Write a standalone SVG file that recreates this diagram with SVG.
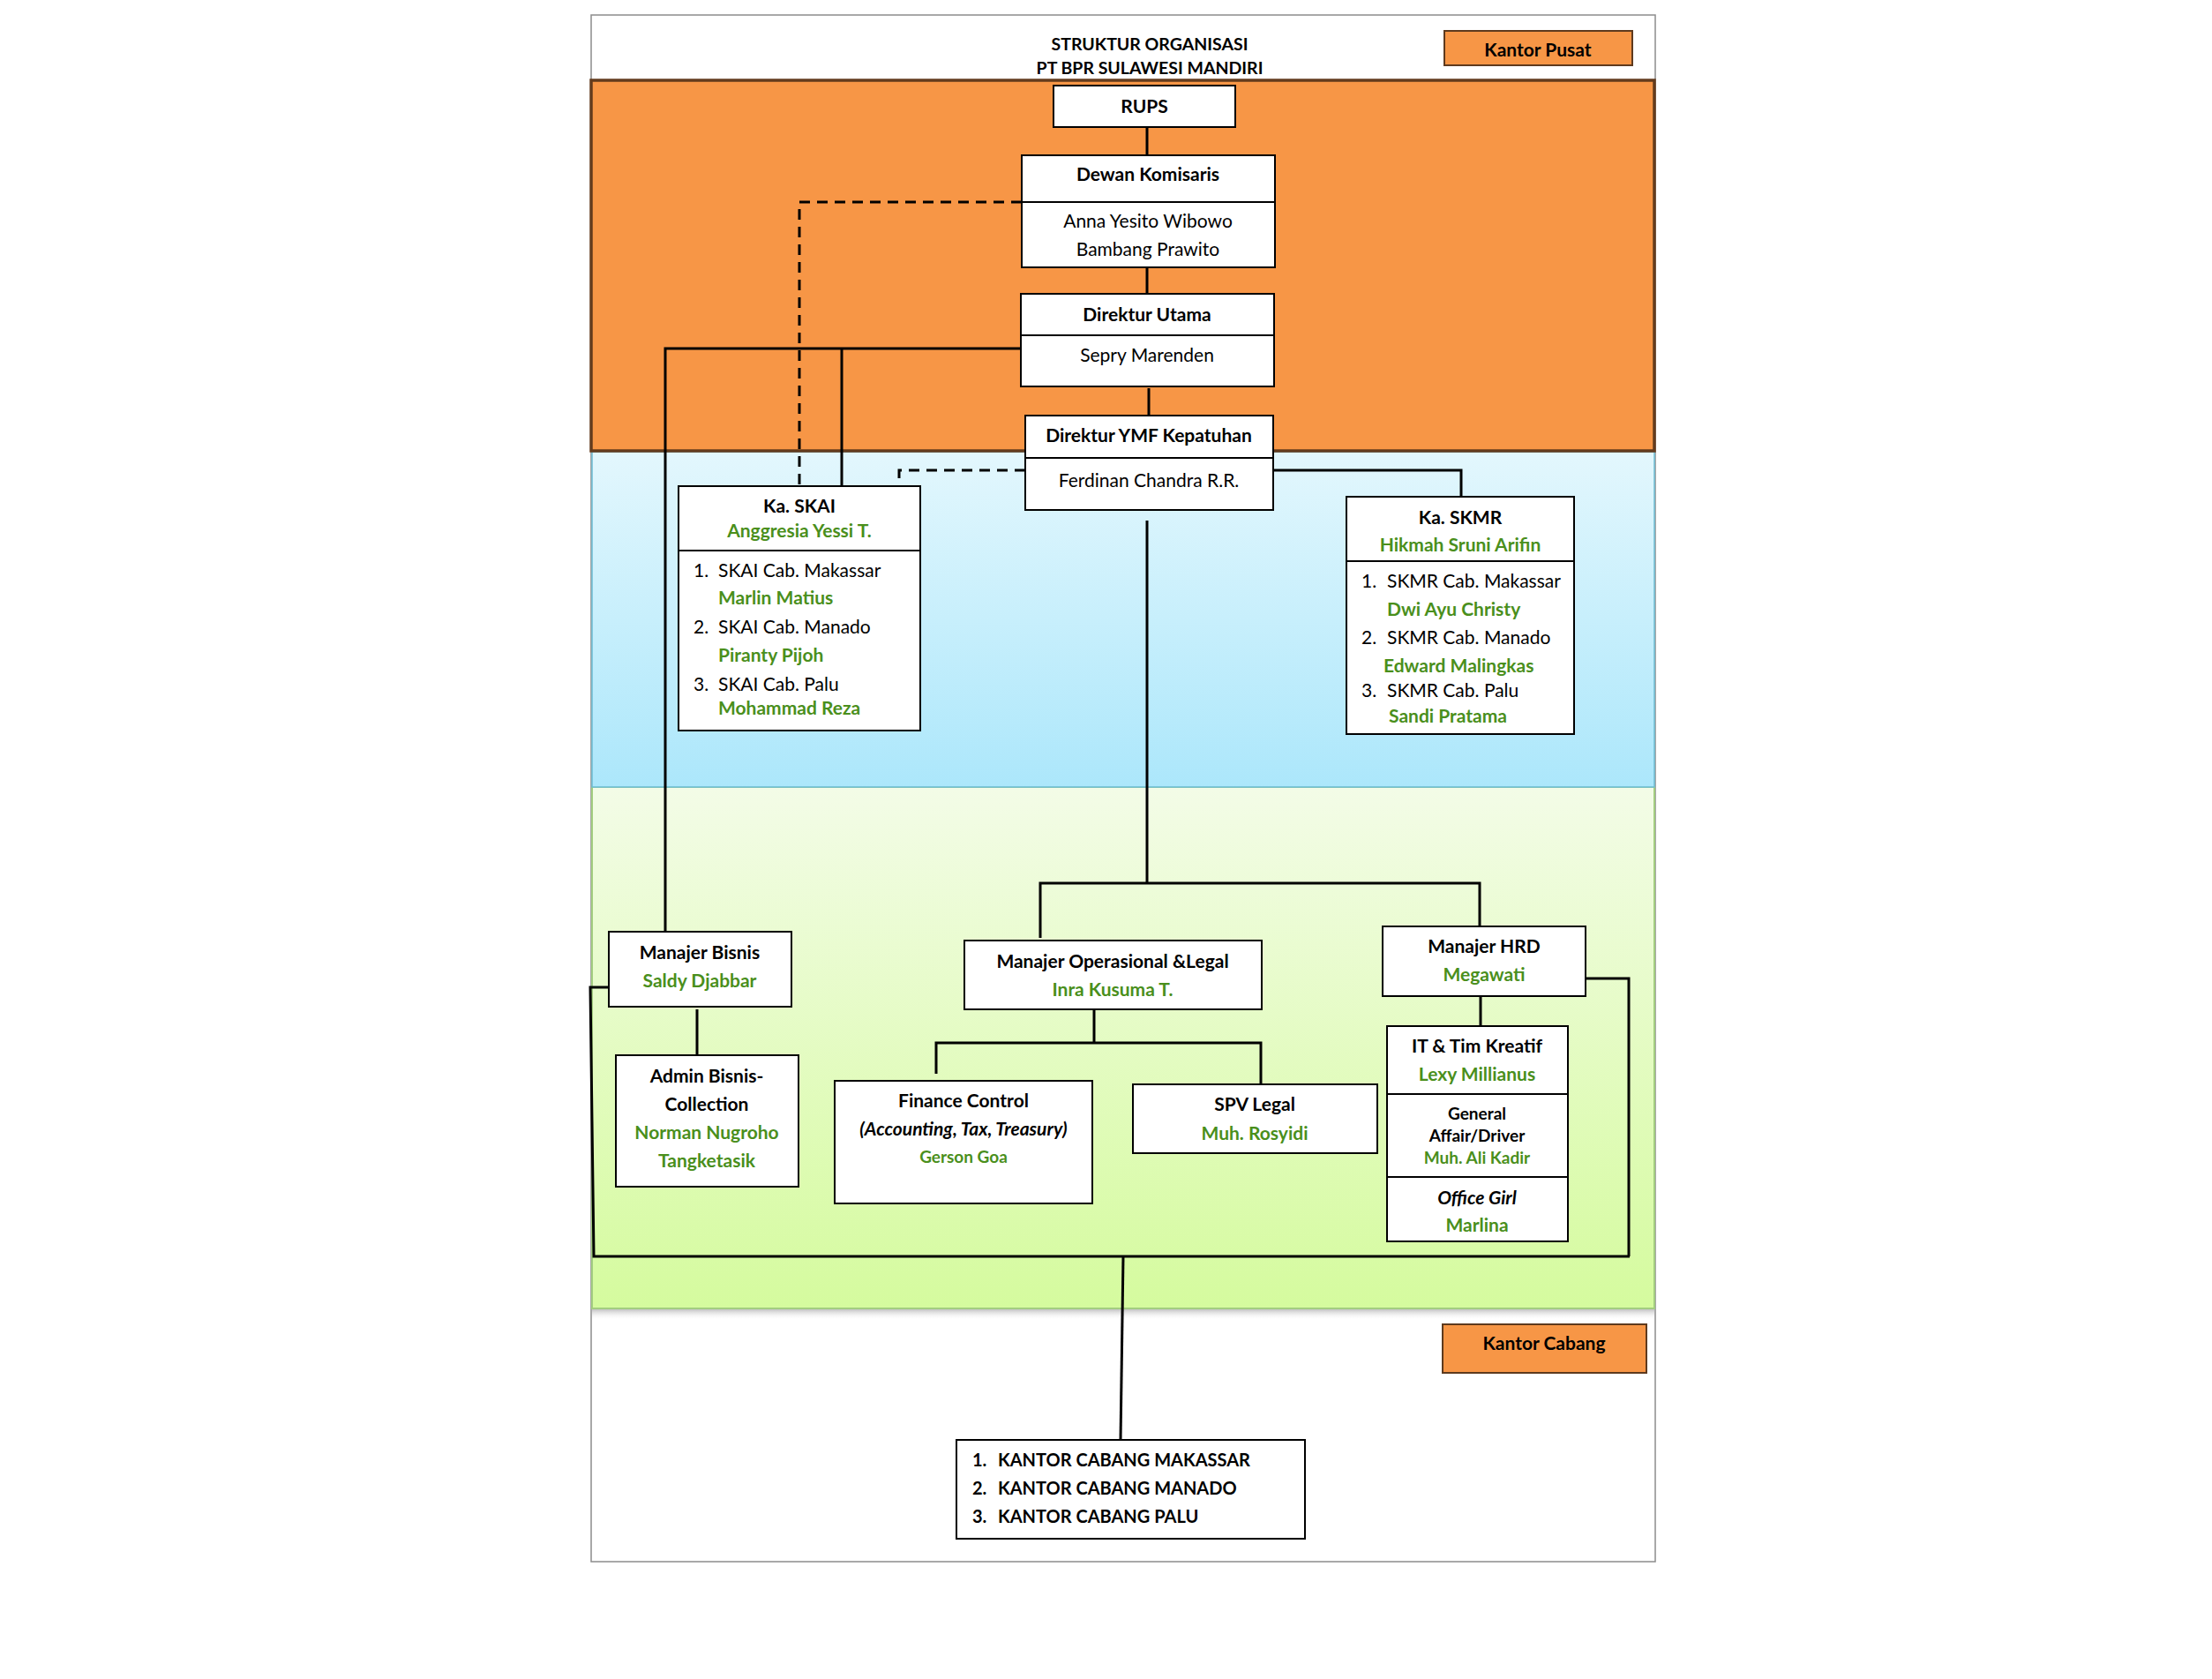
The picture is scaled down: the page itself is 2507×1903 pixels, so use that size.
<svg xmlns="http://www.w3.org/2000/svg" width="2507" height="1903" viewBox="0 0 2507 1903">
<defs>
<linearGradient id="gBlue" x1="0" y1="0" x2="0" y2="1"><stop offset="0" stop-color="#e3f7fd"/><stop offset="1" stop-color="#ace7fb"/></linearGradient>
<linearGradient id="gGreen" x1="0" y1="0" x2="0" y2="1"><stop offset="0" stop-color="#f3fce7"/><stop offset="1" stop-color="#d5fb9e"/></linearGradient>
<linearGradient id="gShadow" x1="0" y1="0" x2="0" y2="1"><stop offset="0" stop-color="#9a9a9a" stop-opacity="0.6"/><stop offset="1" stop-color="#ffffff" stop-opacity="0"/></linearGradient>
</defs>
<style>
.box{fill:#ffffff;stroke:#000000;stroke-width:2}
.div{stroke:#000000;stroke-width:2}
.t{font-family:Lato,"Liberation Sans",sans-serif;font-size:21px;fill:#000000;text-anchor:middle}
.s{text-anchor:start}
.b{font-weight:bold}
.i{font-style:italic}
.g{fill:#4a8f1c;font-weight:bold}
.sm{font-size:19px}
.ttl{font-size:19.5px}
.lst{font-size:20px}
.ln{fill:none;stroke:#000000;stroke-width:3}
.dash{fill:none;stroke:#000000;stroke-width:3;stroke-dasharray:12 8}
.tag{fill:#f79646;stroke:#5e3a1e;stroke-width:2}
</style>
<g id="background">
<rect x="670" y="17" width="1206" height="1753" fill="#ffffff" stroke="#8c8c8c" stroke-width="1.5"/>
<rect x="671" y="1484" width="1204" height="12" fill="url(#gShadow)"/>
<rect x="671" y="892" width="1204" height="591" fill="url(#gGreen)" stroke="#a3cd80" stroke-width="2"/>
<rect x="671" y="512" width="1204" height="380" fill="url(#gBlue)" stroke="#6bbcd3" stroke-width="1.5"/>
<rect x="670" y="91" width="1205" height="420" fill="#f79646" stroke="#633b1d" stroke-width="3.5"/>
</g>
<g id="title">
<text class="t b ttl" x="1303" y="57">STRUKTUR ORGANISASI</text>
<text class="t b ttl" x="1303" y="84">PT BPR SULAWESI MANDIRI</text>
</g>
<g id="kantor-pusat">
<rect class="tag" x="1637" y="35" width="213" height="39"/>
<text class="t b" x="1743" y="64">Kantor Pusat</text>
</g>
<g id="connectors">
<path class="ln" d="M1300,144 V176"/>
<path class="ln" d="M1300,303 V333"/>
<path class="ln" d="M1302,440 V471"/>
<path class="dash" d="M1158,229 H906 V551"/>
<path class="ln" d="M1157,395 H754 V1056"/>
<path class="ln" d="M954,395 V551"/>
<path class="dash" d="M1162,533 H1019 V551"/>
<path class="ln" d="M1443,533 H1656 V563"/>
<path class="ln" d="M1300,590 V1001"/>
<path class="ln" d="M1179,1063 V1001 H1677 V1050"/>
<path class="ln" d="M790,1144 V1196"/>
<path class="ln" d="M1240,1145 V1182"/>
<path class="ln" d="M1061,1217 V1182 H1429 V1229"/>
<path class="ln" d="M1678,1129 V1163"/>
<path class="ln" d="M690,1119 H669 L673,1424 H1847"/>
<path class="ln" d="M1797,1109 H1846 V1424"/>
<path class="ln" d="M1273,1424 L1270,1632"/>
</g>
<g id="rups">
<rect class="box" x="1194" y="97" width="206" height="47"/>
<text class="t b" x="1297" y="128">RUPS</text>
</g>
<g id="dewan-komisaris">
<rect class="box" x="1158" y="176" width="287" height="127"/>
<line class="div" x1="1158" y1="229" x2="1445" y2="229"/>
<text class="t b" x="1301" y="205">Dewan Komisaris</text>
<text class="t" x="1301" y="258">Anna Yesito Wibowo</text>
<text class="t" x="1301" y="290">Bambang Prawito</text>
</g>
<g id="direktur-utama">
<rect class="box" x="1157" y="333" width="287" height="105"/>
<line class="div" x1="1157" y1="380" x2="1444" y2="380"/>
<text class="t b" x="1300" y="364">Direktur Utama</text>
<text class="t" x="1300" y="410">Sepry Marenden</text>
</g>
<g id="direktur-ymf">
<rect class="box" x="1162" y="471" width="281" height="107"/>
<line class="div" x1="1162" y1="519" x2="1443" y2="519"/>
<text class="t b" x="1302" y="501">Direktur YMF Kepatuhan</text>
<text class="t" x="1302" y="552">Ferdinan Chandra R.R.</text>
</g>
<g id="ka-skai">
<rect class="box" x="769" y="551" width="274" height="277"/>
<line class="div" x1="769" y1="624" x2="1043" y2="624"/>
<text class="t b" x="906" y="581">Ka. SKAI</text>
<text class="t g" x="906" y="609">Anggresia Yessi T.</text>
<text class="t s" x="786" y="654">1.</text><text class="t s" x="814" y="654">SKAI Cab. Makassar</text>
<text class="t s g" x="814" y="685">Marlin Matius</text>
<text class="t s" x="786" y="718">2.</text><text class="t s" x="814" y="718">SKAI Cab. Manado</text>
<text class="t s g" x="814" y="750">Piranty Pijoh</text>
<text class="t s" x="786" y="783">3.</text><text class="t s" x="814" y="783">SKAI Cab. Palu</text>
<text class="t s g" x="814" y="810">Mohammad Reza</text>
</g>
<g id="ka-skmr">
<rect class="box" x="1526" y="563" width="258" height="269"/>
<line class="div" x1="1526" y1="636" x2="1784" y2="636"/>
<text class="t b" x="1655" y="594">Ka. SKMR</text>
<text class="t g" x="1655" y="625">Hikmah Sruni Arifin</text>
<text class="t s" x="1543" y="666">1.</text><text class="t s" x="1572" y="666">SKMR Cab. Makassar</text>
<text class="t s g" x="1572" y="698">Dwi Ayu Christy</text>
<text class="t s" x="1543" y="730">2.</text><text class="t s" x="1572" y="730">SKMR Cab. Manado</text>
<text class="t s g" x="1568" y="762">Edward Malingkas</text>
<text class="t s" x="1543" y="790">3.</text><text class="t s" x="1572" y="790">SKMR Cab. Palu</text>
<text class="t s g" x="1574" y="819">Sandi Pratama</text>
</g>
<g id="manajer-bisnis">
<rect class="box" x="690" y="1056" width="207" height="85"/>
<text class="t b" x="793" y="1087">Manajer Bisnis</text>
<text class="t g" x="793" y="1119">Saldy Djabbar</text>
</g>
<g id="admin-bisnis">
<rect class="box" x="698" y="1196" width="207" height="149"/>
<text class="t b" x="801" y="1227">Admin Bisnis-</text>
<text class="t b" x="801" y="1259">Collection</text>
<text class="t g" x="801" y="1291">Norman Nugroho</text>
<text class="t g" x="801" y="1323">Tangketasik</text>
</g>
<g id="manajer-operasional">
<rect class="box" x="1093" y="1066" width="337" height="78"/>
<text class="t b" x="1261" y="1097">Manajer Operasional &amp;Legal</text>
<text class="t g" x="1261" y="1129">Inra Kusuma T.</text>
</g>
<g id="finance-control">
<rect class="box" x="946" y="1225" width="292" height="139"/>
<text class="t b" x="1092" y="1255">Finance Control</text>
<text class="t b i" x="1092" y="1287">(Accounting, Tax, Treasury)</text>
<text class="t g sm" x="1092" y="1318">Gerson Goa</text>
</g>
<g id="spv-legal">
<rect class="box" x="1284" y="1229" width="277" height="78"/>
<text class="t b" x="1422" y="1259">SPV Legal</text>
<text class="t g" x="1422" y="1292">Muh. Rosyidi</text>
</g>
<g id="manajer-hrd">
<rect class="box" x="1567" y="1050" width="230" height="79"/>
<text class="t b" x="1682" y="1080">Manajer HRD</text>
<text class="t g" x="1682" y="1112">Megawati</text>
</g>
<g id="it-ga-og">
<rect class="box" x="1572" y="1163" width="205" height="244"/>
<line class="div" x1="1572" y1="1240" x2="1777" y2="1240"/>
<line class="div" x1="1572" y1="1334" x2="1777" y2="1334"/>
<text class="t b" x="1674" y="1193">IT &amp; Tim Kreatif</text>
<text class="t g" x="1674" y="1225">Lexy Millianus</text>
<text class="t b sm" x="1674" y="1269">General</text>
<text class="t b sm" x="1674" y="1294">Affair/Driver</text>
<text class="t g sm" x="1674" y="1319">Muh. Ali Kadir</text>
<text class="t b i" x="1674" y="1365">Office Girl</text>
<text class="t g" x="1674" y="1396">Marlina</text>
</g>
<g id="kantor-cabang">
<rect class="tag" x="1635" y="1501" width="231" height="55"/>
<text class="t b" x="1750" y="1530">Kantor Cabang</text>
</g>
<g id="daftar-cabang">
<rect class="box" x="1084" y="1632" width="395" height="112"/>
<text class="t s b lst" x="1102" y="1662">1.</text><text class="t s b lst" x="1131" y="1662">KANTOR CABANG MAKASSAR</text>
<text class="t s b lst" x="1102" y="1694">2.</text><text class="t s b lst" x="1131" y="1694">KANTOR CABANG MANADO</text>
<text class="t s b lst" x="1102" y="1726">3.</text><text class="t s b lst" x="1131" y="1726">KANTOR CABANG PALU</text>
</g>
</svg>
